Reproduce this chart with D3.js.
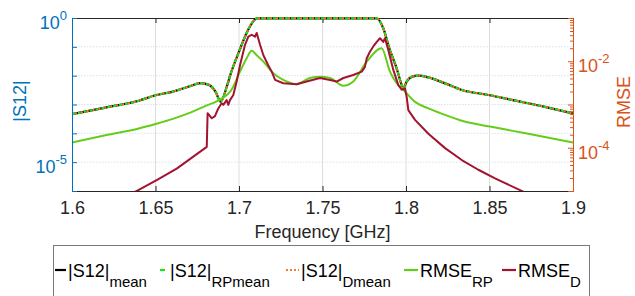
<!DOCTYPE html>
<html>
<head>
<meta charset="utf-8">
<script src="https://cdn.jsdelivr.net/npm/d3@7"></script>
<style>
  body { margin: 0; background: #fff; }
  svg { display: block; font-family: "Liberation Sans", Arial, sans-serif; }
</style>
</head>
<body>
<div id="chart"></div>
<script>
// |S12| mean (the RP and D means sit on top of it in the picture)
var freqMean = [1.600, 1.620, 1.640, 1.650, 1.660, 1.670, 1.677, 1.682, 1.686, 1.689,
    1.693, 1.695, 1.700, 1.705, 1.7096, 1.711, 1.730, 1.750, 1.770, 1.7825,
    1.7864, 1.790, 1.7944, 1.7974, 1.7984, 1.8004, 1.8034, 1.8074, 1.8134, 1.8234,
    1.8334, 1.8503, 1.8633, 1.8832, 1.900];
var s12Mean = [4.6e-4, 7.8e-4, 1.35e-3, 2.1e-3, 2.75e-3, 4.2e-3, 5.5e-3, 4.8e-3, 2.75e-3, 1.26e-3,
    4.8e-3, 1.15e-2, 6.8e-2, 0.34, 0.9, 0.97, 0.97, 0.97, 0.97, 0.97,
    0.44, 0.089, 0.018, 4.8e-3, 3.6e-3, 6.2e-3, 9.1e-3, 1.0e-2, 8.7e-3, 5.4e-3,
    3.2e-3, 2.1e-3, 1.45e-3, 8.3e-4, 4.9e-4];
var s12RPmean = s12Mean;
var s12Dmean = s12Mean;

// RMSE RP (right axis)
var freqRP = [1.600, 1.620, 1.640, 1.650, 1.660, 1.670, 1.680, 1.688, 1.696, 1.7006,
    1.7046, 1.7076, 1.7106, 1.7146, 1.7205, 1.7265, 1.7345, 1.7425, 1.7485, 1.7545,
    1.7625, 1.7684, 1.7765, 1.7854, 1.7904, 1.7944, 1.7984, 1.8054, 1.8134, 1.8234,
    1.8334, 1.8503, 1.8732, 1.900];
var rmseRP = [1.32e-4, 1.95e-4, 2.8e-4, 3.55e-4, 4.6e-4, 6.3e-4, 9.3e-4, 1.26e-3, 2.35e-3, 5.75e-3,
    1.17e-2, 1.74e-2, 1.38e-2, 9.8e-3, 5.25e-3, 3.7e-3, 2.95e-3, 4.1e-3, 4.4e-3, 4.1e-3,
    2.7e-3, 3.4e-3, 9.8e-3, 2.0e-2, 5.75e-3, 3.1e-3, 2.2e-3, 1.15e-3, 8.1e-4, 5.75e-4,
    4.2e-4, 3.1e-4, 2.1e-4, 1.32e-4];

// RMSE D (right axis)
var freqD = [1.620, 1.6397, 1.6507, 1.6627, 1.6807, 1.6812, 1.6837, 1.6856, 1.6876, 1.6896,
    1.6906, 1.6926, 1.6936, 1.6946, 1.6966, 1.6986, 1.7006, 1.7036, 1.7056, 1.7076,
    1.7096, 1.7106, 1.7126, 1.7146, 1.7175, 1.7196, 1.7216, 1.7265, 1.7345, 1.7405,
    1.7485, 1.7545, 1.7585, 1.7625, 1.7684, 1.7735, 1.7754, 1.7765, 1.7784, 1.7804,
    1.7825, 1.7844, 1.7864, 1.7874, 1.7894, 1.7924, 1.7954, 1.7974, 1.7994, 1.8004,
    1.8014, 1.8054, 1.8134, 1.8234, 1.8334, 1.8433, 1.8533, 1.8683, 1.8862];
var rmseD = [4.1e-6, 1.05e-5, 1.78e-5, 3.3e-5, 1.05e-4, 6.3e-4, 4.8e-4, 5.4e-4, 8.1e-4, 1.07e-3,
    9.8e-4, 1.26e-3, 9.8e-4, 1.26e-3, 1.66e-3, 3.4e-3, 8.1e-3, 2.4e-2, 3.7e-2, 4.1e-2,
    3.7e-2, 4.5e-2, 2.4e-2, 1.38e-2, 8.1e-3, 5.75e-3, 3.7e-3, 3.1e-3, 2.95e-3, 3.4e-3,
    4.1e-3, 3.7e-3, 3.4e-3, 4.1e-3, 4.8e-3, 5.75e-3, 7.4e-3, 1.17e-2, 1.66e-2, 2.2e-2,
    2.8e-2, 3.4e-2, 2.8e-2, 3.4e-2, 1.82e-2, 6.3e-3, 2.8e-3, 2.2e-3, 2.35e-3, 1.5e-3,
    7.4e-4, 4.4e-4, 2.1e-4, 9.8e-5, 5.2e-5, 3.1e-5, 1.95e-5, 1.05e-5, 4.8e-6];

// Ticks
var xTicks = [1.6, 1.65, 1.7, 1.75, 1.8, 1.85, 1.9];
var leftDecades = [1, 1e-1, 1e-2, 1e-3, 1e-4, 1e-5, 1e-6];
var leftLabels = [[1, '0'], [1e-5, '-5']];
var rightLabels = [[1e-2, '-2'], [1e-4, '-4']];

// Colours
var blue = '#0072bd';
var orange = '#d95319';
var axisGrey = '#262626';

var W = 635, H = 296;
var margin = { top: 18, left: 72 };
var width = 501, height = 173;

var svg = d3.select('#chart').append('svg')
    .attr('width', W)
    .attr('height', H);

var g = svg.append('g')
    .attr('transform', 'translate(' + margin.left + ',' + margin.top + ')');

// Scales
var x = d3.scaleLinear().domain([1.6, 1.9]).range([0, width]);
var yL = d3.scaleLog().domain([1e-6, 1]).range([height, 0]);
var yR = d3.scaleLog().domain([1e-5, 1e-1]).range([height, 0]);

// clip a little above the frame so the flat pass-band stays visible
g.append('clipPath').attr('id', 'clip')
    .append('rect').attr('y', -3).attr('width', width).attr('height', height + 3);

// Grid
g.selectAll('.vgrid')
    .data(xTicks.slice(1, -1))
    .enter().append('line')
    .attr('x1', function (d) { return x(d); })
    .attr('x2', function (d) { return x(d); })
    .attr('y1', 0).attr('y2', height)
    .style('stroke', '#dedede')
    .style('stroke-width', 1);

g.selectAll('.hgrid')
    .data(leftDecades.slice(1, -1))
    .enter().append('line')
    .attr('x1', 0).attr('x2', width)
    .attr('y1', function (d) { return yL(d); })
    .attr('y2', function (d) { return yL(d); })
    .style('stroke', '#d3e2ee')
    .style('stroke-width', 1)
    .style('stroke-dasharray', '1.5,1.5');

// Curves
var lineL = d3.line()
    .x(function (d) { return x(d[0]); })
    .y(function (d) { return yL(d[1]); })
    .curve(d3.curveMonotoneX);
var lineRsmooth = d3.line()
    .x(function (d) { return x(d[0]); })
    .y(function (d) { return yR(d[1]); })
    .curve(d3.curveMonotoneX);
var lineR = d3.line()
    .x(function (d) { return x(d[0]); })
    .y(function (d) { return yR(d[1]); });

function pairs(f, v) { return f.map(function (d, i) { return [d, v[i]]; }); }

// Axes first, curves on top of the frame
var xAxis = g.append('g')
    .attr('transform', 'translate(0,' + height + ')')
    .call(d3.axisBottom(x).tickValues(xTicks).tickSize(-5).tickSizeOuter(0).tickPadding(10)
        .tickFormat(function (d) { return +d.toFixed(2); }));
xAxis.select('.domain').style('stroke', axisGrey);
xAxis.selectAll('line').style('stroke', axisGrey);
xAxis.selectAll('text').style('font-size', '18px').style('fill', axisGrey);

var topAxis = g.append('g')
    .call(d3.axisTop(x).tickValues(xTicks).tickSize(-5).tickSizeOuter(0).tickFormat(''));
topAxis.select('.domain').style('stroke', axisGrey);
topAxis.selectAll('line').style('stroke', axisGrey);

var plot = g.append('g').attr('clip-path', 'url(#clip)');

plot.append('path')
    .attr('d', lineL(pairs(freqMean, s12Mean)))
    .style('fill', 'none').style('stroke', '#000').style('stroke-width', 2.2);
plot.append('path')
    .attr('d', lineL(pairs(freqMean, s12RPmean)))
    .style('fill', 'none').style('stroke', '#1fe01f').style('stroke-width', 2.2)
    .style('stroke-dasharray', '3,3');
plot.append('path')
    .attr('d', lineL(pairs(freqMean, s12Dmean)))
    .style('fill', 'none').style('stroke', '#f57c2c').style('stroke-width', 2.2)
    .style('stroke-dasharray', '2,4').style('stroke-dashoffset', 3);
plot.append('path')
    .attr('d', lineRsmooth(pairs(freqRP, rmseRP)))
    .style('fill', 'none').style('stroke', '#66cc1a').style('stroke-width', 2);
plot.append('path')
    .attr('d', lineR(pairs(freqD, rmseD)))
    .style('fill', 'none').style('stroke', '#a2142f').style('stroke-width', 2)
    .style('stroke-linejoin', 'round');

var yAxisL = g.append('g')
    .call(d3.axisLeft(yL).tickValues(leftDecades).tickSize(-5).tickSizeOuter(0).tickFormat(''));
yAxisL.select('.domain').style('stroke', blue);
yAxisL.selectAll('line').style('stroke', blue);

var rightMinor = [];
[1e-5, 1e-4, 1e-3, 1e-2].forEach(function (dec) {
    for (var k = 2; k <= 9; k++) rightMinor.push(dec * k);
});
var yAxisR = g.append('g')
    .attr('transform', 'translate(' + width + ',0)')
    .call(d3.axisRight(yR).tickValues(rightMinor).tickSize(-3).tickSizeOuter(0).tickFormat(''));
yAxisR.select('.domain').style('stroke', orange);
yAxisR.selectAll('line').style('stroke', orange);
g.append('g')
    .attr('transform', 'translate(' + width + ',0)')
    .call(d3.axisRight(yR).tickValues([1e-5, 1e-4, 1e-3, 1e-2, 1e-1]).tickSize(-5).tickSizeOuter(0).tickFormat(''))
    .call(function (a) {
        a.select('.domain').style('stroke', orange);
        a.selectAll('line').style('stroke', orange);
    });

// Power-of-ten tick labels
function powLabel(parent, px, py, anchor, exp, color) {
    var t = parent.append('text')
        .attr('x', px).attr('y', py + 11)
        .attr('text-anchor', anchor)
        .style('font-size', '18px')
        .style('fill', color);
    t.append('tspan').text('10');
    t.append('tspan').attr('dy', -9).style('font-size', '13px').text(exp);
}
leftLabels.forEach(function (d) { powLabel(g, -5, yL(d[0]), 'end', d[1], blue); });
rightLabels.forEach(function (d) { powLabel(g, width + 5, yR(d[0]), 'start', d[1], orange); });

// Axis titles
g.append('text')
    .attr('x', width / 2).attr('y', height + 47)
    .attr('text-anchor', 'middle')
    .style('font-size', '18px').style('fill', axisGrey)
    .text('Frequency [GHz]');

svg.append('text')
    .attr('transform', 'translate(26,' + (margin.top + 83) + ') rotate(-90)')
    .attr('text-anchor', 'middle')
    .style('font-size', '18px').style('fill', blue)
    .text('|S12|');

svg.append('text')
    .attr('transform', 'translate(630,' + (margin.top + 84) + ') rotate(-90)')
    .attr('text-anchor', 'middle')
    .style('font-size', '18px').style('fill', orange)
    .text('RMSE');

// Legend
var legend = svg.append('g');
legend.append('rect')
    .attr('x', 53.5).attr('y', 245.5)
    .attr('width', 536).attr('height', 70)
    .style('fill', '#fff').style('stroke', '#7a7a7a').style('stroke-width', 1);

var legendItems = [
    { main: '|S12|', sub: 'mean', x0: 55, len: 11, color: '#000', dash: null },
    { main: '|S12|', sub: 'RPmean', x0: 160, len: 8, color: '#1fe01f', dash: '5,3' },
    { main: '|S12|', sub: 'Dmean', x0: 286, len: 13, color: '#f57c2c', dash: '2,2' },
    { main: 'RMSE', sub: 'RP', x0: 404, len: 14, color: '#66cc1a', dash: null },
    { main: 'RMSE', sub: 'D', x0: 502, len: 14, color: '#a2142f', dash: null }
];
var legendY = 270;
legendItems.forEach(function (it) {
    legend.append('line')
        .attr('x1', it.x0).attr('x2', it.x0 + it.len)
        .attr('y1', legendY).attr('y2', legendY)
        .style('stroke', it.color).style('stroke-width', 2.2)
        .style('stroke-dasharray', it.dash);
    var t = legend.append('text')
        .attr('x', it.x0 + it.len + 2).attr('y', legendY + 7)
        .style('font-size', '18px').style('fill', '#000');
    t.append('tspan').text(it.main);
    t.append('tspan').attr('dy', 10).style('font-size', '15px').text(it.sub);
});
</script>
</body>
</html>
